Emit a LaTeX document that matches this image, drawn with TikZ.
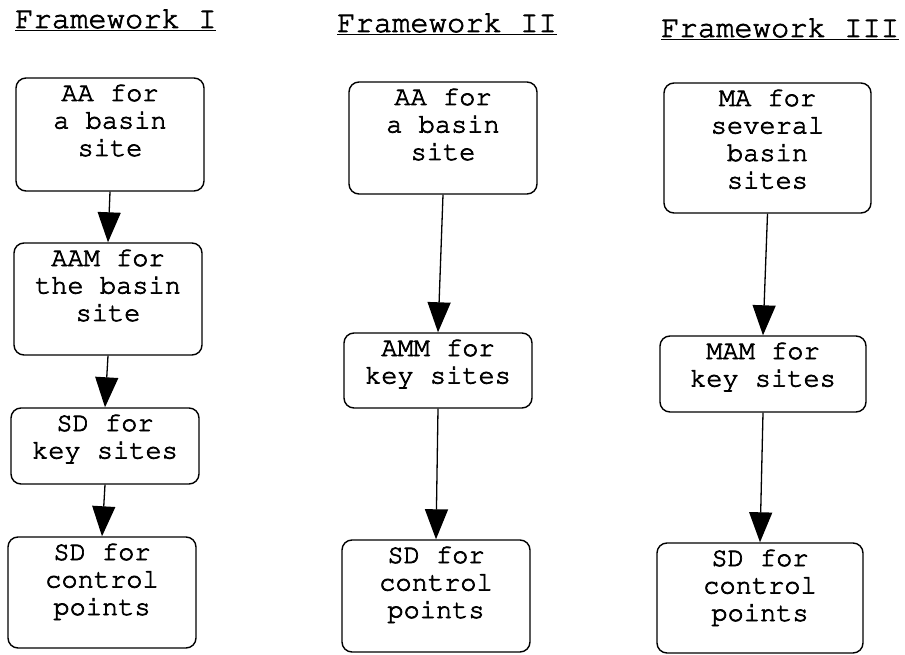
\documentclass[tikz,border=0pt]{standalone}
\usepackage[T1]{fontenc}
\usepackage{courier}
\usetikzlibrary{arrows.meta}
% Courier with a slightly heavier stroke (fill + outline of the glyphs)
\newcommand\heavy[1]{\special{pdf:literal direct 2 Tr 0.7 w}#1\special{pdf:literal direct 0 Tr}}
\newcommand\cour{\ttfamily}
% text lines inside a box: fixed width and height, set from the top
\newcommand\boxlines[3]{\parbox[c][#2][t]{#1}{\centering\cour\fontsize{27pt}{27.5pt}\selectfont\heavy{\rule{0pt}{23pt}#3}}}
\begin{document}
\begin{tikzpicture}[x=1pt,y=1pt,
  box/.style={draw, rounded corners=10pt, line width=1.4pt, inner sep=0pt},
  arr/.style={line width=1.3pt, -{Triangle[length=30pt,width=23pt]}},
  title/.style={anchor=base west, inner sep=0pt, font=\cour\fontsize{30.5pt}{32pt}\selectfont}]
\useasboundingbox (0,0) rectangle (905,-655);

% headings
\node[title] (t1) at (15,-28) {\heavy{\underline{Framework I}}};
\node[title] (t2) at (337,-32) {\heavy{\underline{Framework II}}};
\node[title] (t3) at (661,-37) {\heavy{\underline{Framework III}}};

% Framework I
\node[box] (a1) at (110,-134.5) {\boxlines{188pt}{113pt}{AA for\\a basin\\site}};
\node[box] (a2) at (108,-299) {\boxlines{188pt}{112pt}{AAM for\\the basin\\site}};
\node[box] (a3) at (105,-446) {\boxlines{188pt}{76pt}{SD for\\key sites}};
\node[box] (a4) at (102,-592.5) {\boxlines{188pt}{111pt}{SD for\\control\\points}};

% Framework II
\node[box] (b1) at (443,-138) {\boxlines{188pt}{112pt}{AA for\\a basin\\site}};
\node[box] (b2) at (438,-370.5) {\boxlines{188pt}{75pt}{AMM for\\key sites}};
\node[box] (b3) at (436,-596) {\boxlines{188pt}{112pt}{SD for\\control\\points}};

% Framework III
\node[box] (c1) at (767.5,-148) {\boxlines{207pt}{130pt}{MA for\\several\\basin\\sites}};
\node[box] (c2) at (763,-374) {\boxlines{206pt}{76pt}{MAM for\\key sites}};
\node[box] (c3) at (760,-598) {\boxlines{206pt}{110pt}{SD for\\control\\points}};

% connectors
\draw[arr] (a1.south) -- (a2.north);
\draw[arr] (a2.south) -- (a3.north);
\draw[arr] (a3.south) -- (a4.north);
\draw[arr] (b1.south) -- (b2.north);
\draw[arr] (b2.south) -- (b3.north);
\draw[arr] (c1.south) -- (c2.north);
\draw[arr] (c2.south) -- (c3.north);
\end{tikzpicture}
\end{document}
